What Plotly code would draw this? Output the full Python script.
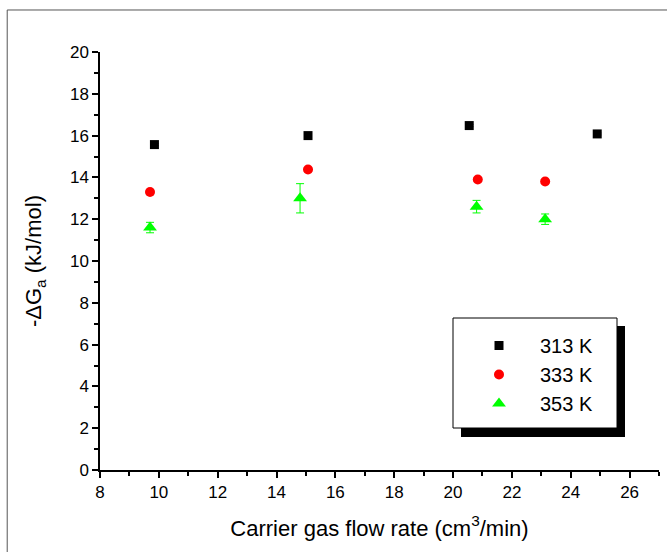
import plotly.graph_objects as go

# Data
x_313 = [9.85, 15.07, 20.55, 24.9]
y_313 = [15.57, 16.0, 16.48, 16.08]
e_313 = [0.05, 0.05, 0.05, 0.05]

x_333 = [9.7, 15.07, 20.84, 23.13]
y_333 = [13.3, 14.38, 13.9, 13.8]
e_333 = [0.05, 0.05, 0.05, 0.05]

x_353 = [9.7, 14.8, 20.8, 23.13]
y_353 = [11.6, 13.0, 12.6, 12.0]
e_353 = [0.25, 0.7, 0.3, 0.25]

series = [
    ("313 K", x_313, y_313, e_313, "black", "square", 9),
    ("333 K", x_333, y_333, e_333, "red", "circle", 10),
    ("353 K", x_353, y_353, e_353, "#00ff00", "triangle-up", 12),
]

fig = go.Figure()
for name, xs, ys, es, col, sym, sz in series:
    fig.add_trace(go.Scatter(
        x=xs, y=ys, mode="markers", name=name,
        marker=dict(color=col, symbol=sym, size=sz, line=dict(width=0)),
        error_y=dict(type="data", array=es, color=col, thickness=1, width=4),
    ))

font = "Liberation Sans, Arial, sans-serif"
axis_common = dict(
    showgrid=False, zeroline=False, showline=True, linecolor="black", linewidth=1.5,
    ticks="outside", ticklen=6, tickwidth=1.5, tickcolor="black",
    tickfont=dict(family=font, size=17, color="black"),
    minor=dict(ticks="outside", ticklen=4, tickwidth=1.5, tickcolor="black", dtick=1),
    mirror=False,
)

fig.update_layout(
    width=667, height=552,
    margin=dict(l=100, r=8, t=52, b=82),
    paper_bgcolor="white", plot_bgcolor="white",
    font=dict(family=font, color="black"),
    xaxis=dict(range=[8, 27], dtick=2, tick0=8,
               title=dict(text="Carrier gas flow rate (cm<sup>3</sup>/min)",
                          font=dict(family=font, size=22), standoff=19),
               **axis_common),
    yaxis=dict(range=[0, 20], dtick=2, tick0=0,
               title=dict(text="-ΔG<sub>a</sub> (kJ/mol)",
                          font=dict(family=font, size=22), standoff=22),
               **axis_common),
    showlegend=True,
    legend=dict(x=(458 - 100) / 559, y=(470 - 326) / 418, xanchor="left", yanchor="top",
                bgcolor="rgba(0,0,0,0)", borderwidth=0,
                font=dict(family=font, size=20, color="black"),
                itemwidth=72, tracegroupgap=0),
    shapes=[
        # outer frame
        dict(type="rect", xref="paper", yref="paper",
             x0=-0.166, y0=-0.3, x1=1.2, y1=1.1005,
             line=dict(color="#555555", width=1), fillcolor="rgba(0,0,0,0)"),
        # legend shadow
        dict(type="rect", xref="paper", yref="paper",
             x0=(461 - 100) / 559, x1=(625 - 100) / 559,
             y0=(470 - 437) / 418, y1=(470 - 326) / 418,
             line=dict(width=0), fillcolor="black"),
        # legend box
        dict(type="rect", xref="paper", yref="paper",
             x0=(453 - 100) / 559, x1=(617 - 100) / 559,
             y0=(470 - 428) / 418, y1=(470 - 318) / 418,
             line=dict(color="black", width=1), fillcolor="white"),
    ],
)

fig.write_html("out.html")
